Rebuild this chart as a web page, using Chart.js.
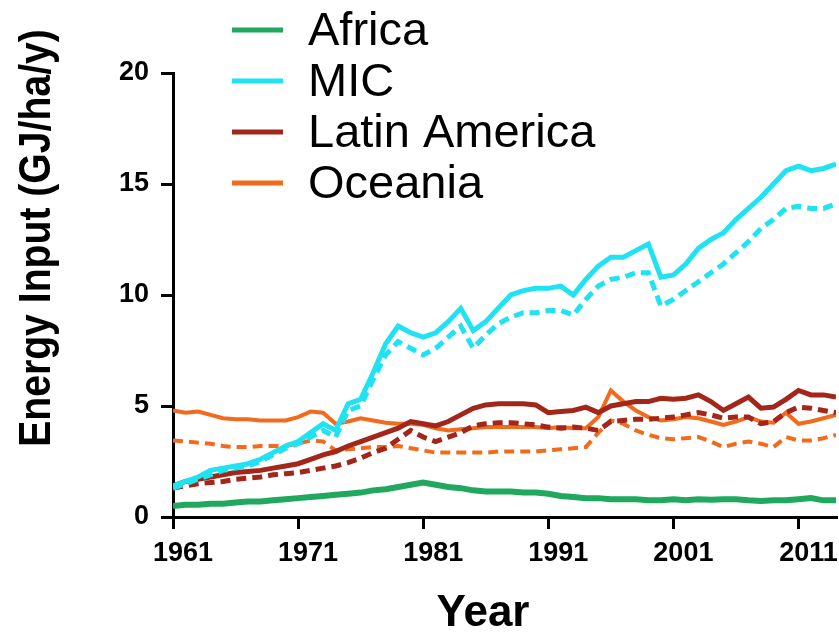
<!DOCTYPE html>
<html lang="en">
<head>
  <meta charset="UTF-8">
  <title>Energy Input by Region</title>
  <script src="https://cdn.jsdelivr.net/npm/chart.js"></script>
  <style>
    body { margin: 0; background: #fff; }
    #wrap { width: 839px; height: 642px; position: relative; }
  </style>
</head>
<body>
  <div id="wrap"><canvas id="grafico"></canvas></div>
  <script>
    // Years 1961..2014
    const years = [
      1961, 1962, 1963, 1964, 1965, 1966, 1967, 1968, 1969, 1970,
      1971, 1972, 1973, 1974, 1975, 1976, 1977, 1978, 1979, 1980,
      1981, 1982, 1983, 1984, 1985, 1986, 1987, 1988, 1989, 1990,
      1991, 1992, 1993, 1994, 1995, 1996, 1997, 1998, 1999, 2000,
      2001, 2002, 2003, 2004, 2005, 2006, 2007, 2008, 2009, 2010,
      2011, 2012, 2013, 2014
    ];
    const xTicks = [1961, 1971, 1981, 1991, 2001, 2011];
    const yTicks = [0, 5, 10, 15, 20];

    const regions = ["Africa", "MIC", "Latin America", "Oceania"];
    const colors = ["#1fa85e", "#1fe2f2", "#a3261b", "#f26b1d"];

    // solid lines
    const africa = [
      0.5, 0.55, 0.55, 0.6, 0.6, 0.65, 0.7, 0.7, 0.75, 0.8,
      0.85, 0.9, 0.95, 1.0, 1.05, 1.1, 1.2, 1.25, 1.35, 1.45,
      1.55, 1.45, 1.35, 1.3, 1.2, 1.15, 1.15, 1.15, 1.1, 1.1,
      1.05, 0.95, 0.9, 0.85, 0.85, 0.8, 0.8, 0.8, 0.75, 0.75,
      0.8, 0.75, 0.8, 0.78, 0.8, 0.8, 0.75, 0.72, 0.75, 0.75,
      0.8, 0.85, 0.75, 0.75
    ];
    const mic = [
      1.4, 1.6, 1.8, 2.1, 2.2, 2.3, 2.4, 2.6, 2.9, 3.2,
      3.4, 3.8, 4.2, 3.9, 5.1, 5.3, 6.5, 7.8, 8.6, 8.3,
      8.1, 8.3, 8.8, 9.4, 8.4, 8.8, 9.4, 10.0, 10.2, 10.3,
      10.3, 10.4, 10.0, 10.7, 11.3, 11.7, 11.7, 12.0, 12.3, 10.8,
      10.9, 11.4, 12.1, 12.5, 12.8, 13.4, 13.9, 14.4, 15.0, 15.6,
      15.8, 15.6, 15.7, 15.9
    ];
    const latin = [
      1.4, 1.6, 1.7, 1.8, 1.9, 2.0, 2.05, 2.1, 2.2, 2.3,
      2.4, 2.6, 2.8, 2.95, 3.2, 3.4, 3.6, 3.8, 4.0, 4.3,
      4.2, 4.1, 4.3, 4.6, 4.9, 5.05, 5.1, 5.1, 5.1, 5.05,
      4.7, 4.75, 4.8, 4.95, 4.7, 5.0, 5.1, 5.2, 5.2, 5.35,
      5.3, 5.35, 5.5, 5.2, 4.8, 5.1, 5.4, 4.9, 4.95, 5.3,
      5.7, 5.5, 5.5, 5.4
    ];
    const oceania = [
      4.8, 4.7, 4.75, 4.6, 4.45, 4.4, 4.4, 4.35, 4.35, 4.35,
      4.5, 4.75, 4.7, 4.2, 4.3, 4.45, 4.35, 4.25, 4.2, 4.2,
      4.15, 4.0, 3.9, 3.95, 4.0, 4.05, 4.05, 4.05, 4.05, 4.05,
      4.0, 4.05, 4.0, 4.0, 4.5, 5.7, 5.2, 4.8, 4.5, 4.35,
      4.4, 4.5, 4.45, 4.3, 4.15, 4.3, 4.5, 4.3, 4.25, 4.7,
      4.2, 4.3, 4.45, 4.6
    ];

    // dashed lines
    const micDash = [
      1.3, 1.5, 1.7, 1.9, 2.1, 2.2, 2.3, 2.5, 2.8, 3.1,
      3.3, 3.6, 3.9, 3.6, 4.8, 5.0, 6.2, 7.3, 7.9, 7.6,
      7.3, 7.6, 8.1, 8.6, 7.6, 8.2, 8.7, 9.0, 9.2, 9.2,
      9.3, 9.3, 9.1, 9.8, 10.4, 10.7, 10.8, 11.0, 11.0, 9.5,
      9.8, 10.2, 10.6, 11.0, 11.4, 11.9, 12.4, 13.0, 13.4, 13.9,
      14.0, 13.9, 13.9, 14.1
    ];
    const latinDash = [
      1.3, 1.4, 1.5, 1.55, 1.6, 1.7, 1.75, 1.8, 1.9, 1.95,
      2.0, 2.1, 2.2, 2.3, 2.45, 2.65, 2.9, 3.1, 3.5, 3.9,
      3.6, 3.4, 3.6, 3.8, 4.1, 4.2, 4.25, 4.25, 4.2, 4.15,
      4.05, 4.0, 4.05, 4.0, 3.9, 4.3, 4.35, 4.4, 4.4, 4.45,
      4.5, 4.6, 4.7, 4.6, 4.45, 4.5, 4.5, 4.2, 4.3, 4.7,
      4.95, 4.9, 4.8, 4.7
    ];
    const oceaniaDash = [
      3.45, 3.4, 3.35, 3.3, 3.2, 3.15, 3.15, 3.2, 3.2, 3.2,
      3.3, 3.45, 3.4, 3.0, 3.05, 3.1, 3.15, 3.15, 3.2, 3.1,
      3.0, 2.9, 2.9, 2.9, 2.9, 2.9, 2.95, 2.95, 2.95, 2.95,
      3.0, 3.05, 3.1, 3.15, 3.8, 4.35, 4.2, 3.9, 3.7, 3.55,
      3.5, 3.55, 3.6, 3.4, 3.15, 3.3, 3.4, 3.3, 3.15, 3.6,
      3.45, 3.45, 3.55, 3.7
    ];

    const pts = arr => arr.map((v, i) => ({ x: years[i], y: v }));

    function linha(label, data, color, dashed, width) {
      return {
        label: label,
        data: pts(data),
        borderColor: color,
        backgroundColor: color,
        borderWidth: width || 5,
        borderDash: dashed ? [10, 6] : [],
        pointRadius: 0,
        tension: 0,
        fill: false
      };
    }

    // legend and axis titles drawn by hand, placed like the original figure
    const textos = {
      id: "textos",
      afterDraw(chart) {
        const ctx = chart.ctx;
        ctx.save();
        ctx.fillStyle = "#000";
        ctx.textBaseline = "middle";
        regions.forEach((name, i) => {
          const y = 30 + i * 51;
          ctx.strokeStyle = colors[i];
          ctx.lineWidth = 5;
          ctx.beginPath();
          ctx.moveTo(232, y);
          ctx.lineTo(283, y);
          ctx.stroke();
          ctx.font = "47px 'Liberation Sans', Arial, sans-serif";
          ctx.textAlign = "left";
          ctx.fillText(name, 308, y + 2);
        });
        ctx.font = "bold 44px 'Liberation Sans', Arial, sans-serif";
        ctx.textAlign = "center";
        ctx.fillText("Year", 483, 614);
        // y title, slightly condensed like the original
        ctx.translate(38, 238);
        ctx.rotate(-Math.PI / 2);
        ctx.scale(0.87, 1);
        ctx.font = "bold 45px 'Liberation Sans', Arial, sans-serif";
        ctx.fillText("Energy Input (GJ/ha/y)", 0, 0);
        ctx.restore();
      }
    };

    const ctx = document.getElementById("grafico").getContext("2d");
    new Chart(ctx, {
      type: "line",
      data: {
        datasets: [
          linha("Africa", africa, colors[0], false, 6),
          linha("MIC", mic, colors[1], false),
          linha("MIC dashed", micDash, colors[1], true),
          linha("Latin America", latin, colors[2], false),
          linha("Latin America dashed", latinDash, colors[2], true),
          linha("Oceania", oceania, colors[3], false, 4),
          linha("Oceania dashed", oceaniaDash, colors[3], true, 4)
        ]
      },
      options: {
        responsive: true,
        maintainAspectRatio: false,
        animation: false,
        layout: { padding: { top: 73, right: 3, left: 0, bottom: 0 } },
        plugins: {
          legend: { display: false },
          tooltip: { enabled: false }
        },
        scales: {
          x: {
            type: "linear",
            min: 1961,
            max: 2014,
            afterBuildTicks: s => { s.ticks = xTicks.map(v => ({ value: v })); },
            afterFit: s => { s.height = 125; },
            grid: { drawOnChartArea: false, color: "#000", lineWidth: 3, tickLength: 12 },
            border: { color: "#000", width: 3 },
            ticks: {
              color: "#000",
              font: { family: "'Liberation Sans', Arial, sans-serif", size: 27, weight: "bold" },
              padding: 8,
              labelOffset: 10,
              maxRotation: 0,
              callback: v => String(v)
            }
          },
          y: {
            min: 0,
            max: 20,
            afterBuildTicks: s => { s.ticks = yTicks.map(v => ({ value: v })); },
            afterFit: s => { s.width = 173; },
            grid: { drawOnChartArea: false, color: "#000", lineWidth: 3, tickLength: 12 },
            border: { color: "#000", width: 3 },
            ticks: {
              color: "#000",
              font: { family: "'Liberation Sans', Arial, sans-serif", size: 27, weight: "bold" },
              padding: 12
            }
          }
        }
      },
      plugins: [textos]
    });
  </script>
</body>
</html>
